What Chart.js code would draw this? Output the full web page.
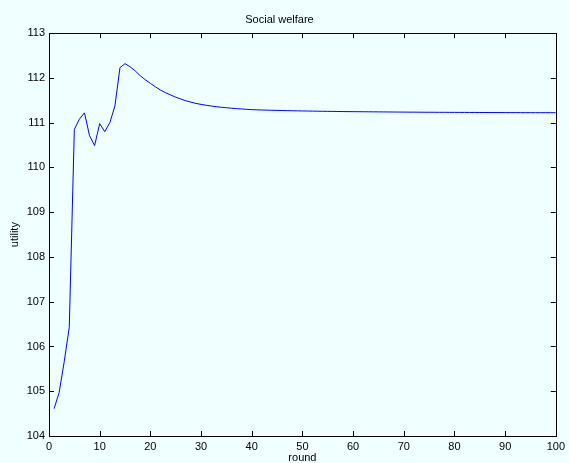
<!DOCTYPE html>
<html>
<head>
<meta charset="utf-8">
<script src="https://cdn.jsdelivr.net/npm/chart.js@4"></script>
<style>
  html, body { margin: 0; padding: 0; background: #f0ffff; }
  canvas { display: block; }
</style>
</head>
<body>
<canvas id="c" width="569" height="463"></canvas>
<script>
const chartTitle = 'Social welfare';
const xLabel = 'round';
const yLabel = 'utility';

const rounds = [
  1, 2, 3, 4, 5, 6, 7, 8, 9, 10,
  11, 12, 13, 14, 15, 16, 17, 18, 19, 20,
  21, 22, 23, 24, 25, 26, 27, 28, 29, 30,
  31, 32, 33, 34, 35, 36, 37, 38, 39, 40,
  41, 42, 43, 44, 45, 46, 47, 48, 49, 50,
  51, 52, 53, 54, 55, 56, 57, 58, 59, 60,
  61, 62, 63, 64, 65, 66, 67, 68, 69, 70,
  71, 72, 73, 74, 75, 76, 77, 78, 79, 80,
  81, 82, 83, 84, 85, 86, 87, 88, 89, 90,
  91, 92, 93, 94, 95, 96, 97, 98, 99, 100
];

const utility = [
  104.61, 104.97, 105.66, 106.43, 110.85, 111.08, 111.22, 110.71, 110.49, 110.98,
  110.80, 111.00, 111.37, 112.23, 112.32, 112.25, 112.16, 112.05, 111.96, 111.88,
  111.80, 111.73, 111.67, 111.62, 111.57, 111.53, 111.49, 111.46, 111.43, 111.410,
  111.390, 111.373, 111.358, 111.345, 111.334, 111.324, 111.315, 111.307, 111.299, 111.292,
  111.288, 111.284, 111.281, 111.278, 111.275, 111.272, 111.270, 111.267, 111.265, 111.263,
  111.261, 111.259, 111.257, 111.255, 111.254, 111.252, 111.251, 111.249, 111.248, 111.247,
  111.246, 111.245, 111.244, 111.243, 111.242, 111.241, 111.240, 111.239, 111.238, 111.237,
  111.236, 111.236, 111.235, 111.234, 111.234, 111.233, 111.232, 111.232, 111.231, 111.231,
  111.230, 111.230, 111.229, 111.229, 111.228, 111.228, 111.227, 111.227, 111.227, 111.226,
  111.226, 111.226, 111.225, 111.225, 111.225, 111.224, 111.224, 111.224, 111.224, 111.223
];

const xTicks = [0, 10, 20, 30, 40, 50, 60, 70, 80, 90, 100];
const yTicks = [104, 105, 106, 107, 108, 109, 110, 111, 112, 113];

Chart.defaults.font.family = "'Liberation Sans', Arial, Helvetica, sans-serif";
Chart.defaults.font.size = 11;
Chart.defaults.color = '#000';

const bgPlugin = {
  id: 'bg',
  beforeDraw(chart) {
    const ctx = chart.ctx;
    ctx.save();
    ctx.fillStyle = '#f0ffff';
    ctx.fillRect(0, 0, chart.width, chart.height);
    ctx.restore();
  }
};

const boxPlugin = {
  id: 'box',
  afterDraw(chart) {
    const ctx = chart.ctx;
    const a = chart.chartArea;
    const xs = chart.scales.x, ys = chart.scales.y;
    const tl = 5;
    ctx.save();
    ctx.strokeStyle = '#000';
    ctx.lineWidth = 1;
    ctx.beginPath();
    xs.ticks.forEach(t => {
      const px = Math.round(xs.getPixelForValue(t.value)) + 0.5;
      ctx.moveTo(px, a.bottom); ctx.lineTo(px, a.bottom - tl);
      ctx.moveTo(px, a.top); ctx.lineTo(px, a.top + tl);
    });
    ys.ticks.forEach(t => {
      const py = Math.round(ys.getPixelForValue(t.value)) + 0.5;
      ctx.moveTo(a.left, py); ctx.lineTo(a.left + tl, py);
      ctx.moveTo(a.right, py); ctx.lineTo(a.right - tl, py);
    });
    ctx.stroke();
    ctx.strokeRect(Math.round(a.left) + 0.5, Math.round(a.top) + 0.5,
                   Math.round(a.right - a.left), Math.round(a.bottom - a.top));
    ctx.restore();
  }
};

new Chart(document.getElementById('c'), {
  type: 'line',
  data: {
    datasets: [{
      label: 'Social welfare',
      data: rounds.map((r, i) => ({ x: r, y: utility[i] })),
      borderColor: '#0000ff',
      borderWidth: 1,
      pointRadius: 0,
      tension: 0,
      fill: false
    }]
  },
  options: {
    responsive: false,
    animation: false,
    layout: { padding: { left: 0, right: 10, top: 0, bottom: 0 } },
    plugins: {
      legend: { display: false },
      tooltip: { enabled: false },
      title: {
        display: true,
        text: chartTitle,
        color: '#000',
        font: { size: 11, weight: 'normal' },
        padding: { top: 13, bottom: 7 }
      }
    },
    scales: {
      x: {
        type: 'linear',
        min: 0, max: 100,
        afterBuildTicks: s => { s.ticks = xTicks.map(v => ({ value: v })); },
        ticks: { padding: 4, maxRotation: 0, autoSkip: false, color: '#000' },
        grid: { display: false, drawTicks: false },
        border: { display: false },
        title: { display: true, text: xLabel, color: '#000', padding: { top: 0, bottom: -1.5 } },
        afterFit: s => { s.height = 27; }
      },
      y: {
        type: 'linear',
        min: 104, max: 113,
        afterBuildTicks: s => { s.ticks = yTicks.map(v => ({ value: v })); },
        ticks: { padding: 4, autoSkip: false, color: '#000' },
        grid: { display: false, drawTicks: false },
        border: { display: false },
        title: { display: true, text: yLabel, color: '#000', padding: { top: 8.4, bottom: 0 } },
        afterFit: s => { s.width = 49; }
      }
    }
  },
  plugins: [bgPlugin, boxPlugin]
});
</script>
</body>
</html>
